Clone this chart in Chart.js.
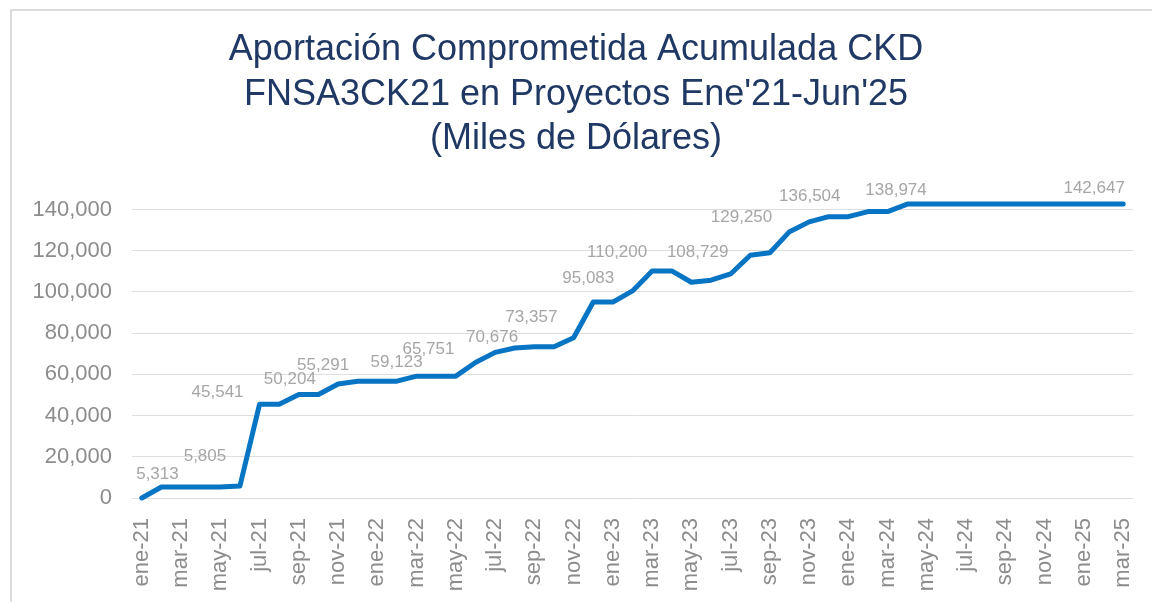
<!DOCTYPE html>
<html>
<head>
<meta charset="utf-8">
<script src="https://cdn.jsdelivr.net/npm/chart.js@4.4.1/dist/chart.umd.min.js"></script>
<style>
    html, body { margin: 0; padding: 0; background: #fff; }
    #wrap { width: 1152px; height: 602px; position: relative; }
</style>
</head>
<body>
<div id="wrap"><canvas id="chart" width="1152" height="602"></canvas></div>
<script>
(function () {
    'use strict';

    var titleLines = ['Aportación Comprometida Acumulada CKD', "FNSA3CK21 en Proyectos Ene'21-Jun'25", '(Miles de Dólares)'];

    var months = [
        'ene-21','feb-21','mar-21','abr-21','may-21','jun-21','jul-21','ago-21','sep-21','oct-21','nov-21','dic-21',
        'ene-22','feb-22','mar-22','abr-22','may-22','jun-22','jul-22','ago-22','sep-22','oct-22','nov-22','dic-22',
        'ene-23','feb-23','mar-23','abr-23','may-23','jun-23','jul-23','ago-23','sep-23','oct-23','nov-23','dic-23',
        'ene-24','feb-24','mar-24','abr-24','may-24','jun-24','jul-24','ago-24','sep-24','oct-24','nov-24','dic-24',
        'ene-25','feb-25','mar-25'
    ];

    var committed = [
        0, 5313, 5313, 5313, 5313, 5805, 45541, 45541, 50204, 50204, 55291, 56700,
        56700, 56700, 59123, 59123, 59123, 65751, 70676, 72800, 73357, 73357, 77800, 95083,
        95083, 100500, 110200, 110200, 104700, 105700, 108729, 117800, 119000, 129250, 134000, 136504,
        136504, 138974, 138974, 142647, 142647, 142647, 142647, 142647, 142647, 142647, 142647, 142647,
        142647, 142647, 142647
    ];

    var yTicks = [0, 20000, 40000, 60000, 80000, 100000, 120000, 140000];

    // points that carry a value label
    var labelIdx = [1, 5, 6, 8, 10, 14, 17, 18, 20, 23, 26, 30, 33, 35, 37, 50];
    // label offset from its point, px (style only)
    var labelOffsets = [
        [-4, -13], [-35, -30], [-42, -12], [-9, -15], [-15, -19], [-20, -14], [-47, -13], [-3, -15],
        [-3, -30], [-5, -24], [-35, -19], [-33, -22], [-48, -14], [-19, -20], [28, -21], [-29, -16]
    ];

    var FONT = "'Liberation Sans', Arial, sans-serif";
    var grey = '#8c8c8c';

    function fmt(v) { return v.toLocaleString('en-US'); }

    var frame = {
        id: 'frame',
        beforeDraw: function (chart) {
            var ctx = chart.ctx;
            ctx.save();
            ctx.fillStyle = '#fff';
            ctx.fillRect(0, 0, chart.width, chart.height);
            ctx.strokeStyle = '#dcdcdc';
            ctx.lineWidth = 2;
            ctx.strokeRect(11, 10, chart.width + 20, chart.height + 20);
            ctx.restore();
        }
    };

    var valueLabels = {
        id: 'valueLabels',
        afterDatasetsDraw: function (chart) {
            var ctx = chart.ctx;
            var meta = chart.getDatasetMeta(0);
            ctx.save();
            ctx.font = '17px ' + FONT;
            ctx.fillStyle = '#a6a6a6';
            ctx.textAlign = 'center';
            ctx.textBaseline = 'middle';
            labelIdx.forEach(function (idx, k) {
                var pt = meta.data[idx];
                if (!pt) return;
                ctx.fillText(fmt(committed[idx]), pt.x + labelOffsets[k][0], pt.y + labelOffsets[k][1]);
            });
            ctx.restore();
        }
    };

    new Chart(document.getElementById('chart'), {
        type: 'line',
        data: {
            labels: months,
            datasets: [{
                data: committed,
                borderColor: '#0874c4',
                borderWidth: 5,
                borderJoinStyle: 'round',
                borderCapStyle: 'round',
                pointRadius: 0,
                tension: 0,
                fill: false,
                clip: false
            }]
        },
        options: {
            responsive: false,
            animation: false,
            devicePixelRatio: 1,
            layout: { padding: { left: 19, right: 19, top: 0, bottom: 0 } },
            plugins: {
                legend: { display: false },
                tooltip: { enabled: false },
                title: {
                    display: true,
                    text: titleLines,
                    color: '#1f3864',
                    font: { family: FONT, size: 36, weight: 'normal', lineHeight: '44.5px' },
                    padding: { top: 28, bottom: 48 }
                }
            },
            scales: {
                x: {
                    offset: true,
                    grid: { display: false },
                    border: { display: false },
                    afterFit: function (s) {
                        s.height = 104;
                        s.paddingLeft = 0;
                        s.paddingRight = 0;
                    },
                    ticks: {
                        autoSkip: false,
                        maxRotation: 90,
                        minRotation: 90,
                        padding: 12,
                        color: grey,
                        font: { family: FONT, size: 22 },
                        callback: function (v, i) { return i % 2 === 0 ? months[i] : ''; }
                    }
                },
                y: {
                    min: 0,
                    max: 140000,
                    afterFit: function (s) { s.width = 113; },
                    afterBuildTicks: function (s) {
                        s.ticks = yTicks.map(function (v) { return { value: v }; });
                    },
                    grid: { color: '#dedede', lineWidth: 1, drawTicks: false },
                    border: { display: false },
                    ticks: {
                        padding: 20,
                        color: grey,
                        font: { family: FONT, size: 22 },
                        callback: function (v) { return fmt(v); }
                    }
                }
            }
        },
        plugins: [frame, valueLabels]
    });
})();
</script>
</body>
</html>
